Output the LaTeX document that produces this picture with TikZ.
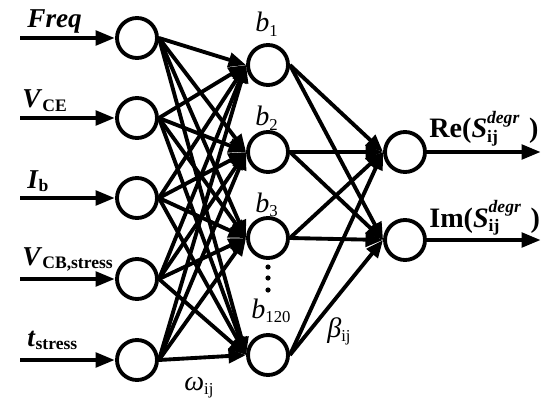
\documentclass[tikz,border=0pt]{standalone}
\usepackage{fontspec}
\setmainfont{Liberation Serif}
\usetikzlibrary{arrows.meta}

% small lowered index
\newcommand{\lsub}[2][1.8pt]{\raisebox{-#1}{\fontsize{10}{12}\selectfont #2}}
\newcommand{\nsub}[1]{\raisebox{-2.5pt}{\fontsize{9.5}{11}\selectfont #1}}
\newcommand{\idx}[1]{\mbox{\fontsize{10}{12}\selectfont\bfseries #1}}

\tikzset{
  neuron/.style={circle, draw, line width=2.2pt, minimum size=0.8cm, inner sep=0pt},
  link/.style={line width=2.2pt, -{Triangle[length=10pt,width=8pt]}},
  feed/.style={line width=2.6pt, -{Triangle[length=11pt,width=8pt]}},
  lbl/.style={font=\fontsize{15.5}{18}\selectfont\bfseries, anchor=base west, inner sep=0pt},
  olbl/.style={font=\fontsize{16}{18}\selectfont\bfseries, anchor=base west, inner sep=0pt},
  blbl/.style={font=\fontsize{16}{18}\selectfont, anchor=base west, inner sep=0pt},
}

\begin{document}
\begin{tikzpicture}[x=0.02cm,y=-0.02cm]
\useasboundingbox (0,0) rectangle (550,415);

% --- input layer ---
\node[neuron] (i1) at (137,38) {};
\node[neuron] (i2) at (137,118) {};
\node[neuron] (i3) at (137,198) {};
\node[neuron] (i4) at (137,279) {};
\node[neuron] (i5) at (137,360) {};

% --- hidden layer ---
\node[neuron] (h1) at (268,65) {};
\node[neuron] (h2) at (268,152) {};
\node[neuron] (h3) at (268,238) {};
\node[neuron] (h4) at (268,355) {};

% --- output layer ---
\node[neuron] (o1) at (405,152) {};
\node[neuron] (o2) at (405,240) {};

% free ends of the feed arrows
\coordinate (s1) at (20,38);
\coordinate (s2) at (20,118);
\coordinate (s3) at (20,198);
\coordinate (s4) at (20,279);
\coordinate (s5) at (20,360);
\coordinate (e1) at (541,152);
\coordinate (e2) at (541,240);

\foreach \i in {1,...,5}
  \draw[feed] (s\i) -- (i\i.west);

\foreach \i in {1,...,5}
  \foreach \h in {1,...,4}
    \draw[link] (i\i.east) -- (h\h.west);

\foreach \h in {1,...,4}
  \foreach \o in {1,2}
    \draw[link] (h\h.east) -- (o\o.west);

\draw[feed] (o1.east) -- (e1);
\draw[feed] (o2.east) -- (e2);

% dots between b3 and b120
\foreach \y in {267,278,290}
  \fill (268,\y) circle (2.6);

% --- input labels ---
\node[lbl] (lfreq) at (27,28) {\textit{Freq}};
\node[lbl] (lvce) at (22,108) {\textit{V}\lsub{CE}};
\node[lbl] (lib) at (27,188) {\textit{I}\lsub{b}};
\node[lbl] (lvcb) at (22,265) {\textit{V}\lsub{CB,stress}};
\node[lbl] (lt) at (27,346) {\textit{t}\lsub{stress}};

% --- hidden labels ---
\node[blbl] (lb1) at (255,32) {\textit{b}\nsub{1}};
\node[blbl] (lb2) at (255,126) {\textit{b}\nsub{2}};
\node[blbl] (lb3) at (255,212) {\textit{b}\nsub{3}};
\node[blbl] (lb4) at (251,318) {\textit{b}\nsub{120}};

% --- weights ---
\node[blbl] (lw) at (184,390) {\textit{ω}\nsub{ij}};
\node[blbl] (lbeta) at (327,337) {\textit{β}\nsub{ij}};

% --- output labels ---
\node[olbl] (lre) at (429,138) {Re(\textit{S}$^{\idx{\itshape degr}}_{\idx{ij}}$\hspace{5pt})};
\node[olbl] (lim) at (429,227) {Im(\textit{S}$^{\idx{\itshape degr}}_{\idx{ij}}$\hspace{5pt})};

\end{tikzpicture}
\end{document}
